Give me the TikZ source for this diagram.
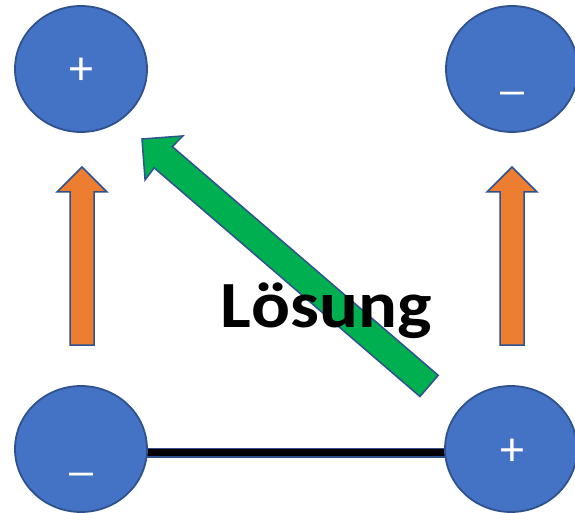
\documentclass[tikz,border=0pt]{standalone}
\usepackage{fontspec}
\setmainfont{Carlito}
\usetikzlibrary{shapes.geometric,backgrounds}
\definecolor{chargefill}{HTML}{4472C4}
\definecolor{edgeblue}{HTML}{2F528F}
\definecolor{arroworange}{HTML}{ED7D31}
\definecolor{arrowgreen}{HTML}{00B050}
\tikzset{
  charge/.style={ellipse, fill=chargefill, draw=edgeblue, line width=1.8pt,
    minimum width=132pt, minimum height=126pt, inner sep=0pt},
  sign/.style={text=white, font=\fontsize{48}{48}\selectfont, inner sep=0pt},
  blockarrow/.style={draw=edgeblue, line width=1.5pt, line join=miter},
  wire/.style={draw=edgeblue, line width=1.5pt, double=black, double distance=7pt}
}
\begin{document}
\begin{tikzpicture}[x=1pt, y=1pt]
  \useasboundingbox (0,0) rectangle (575,512);

  % charges
  \node[charge] (tl) at (81,443) {};
  \node[charge] (tr) at (512,443) {};
  \node[charge] (bl) at (81,63) {};
  \node[charge] (br) at (511,63) {};

  % conductor between the lower charges
  \begin{scope}[on background layer]
    \draw[wire] ([yshift=-3.5pt]bl.center) -- ([yshift=-3.5pt]br.center);
  \end{scope}

  % signs
  \node[sign] (ptl) at (81,441) {+};
  \node[sign] (pbr) at (512,60) {+};
  \node[sign] (mtr) at (512,420) {\_};
  \node[sign] (mbl) at (81,39) {\_};

  % orange upward arrows
  \fill[arroworange, blockarrow] (82,345) -- (107,320) -- (94,320) -- (94,167)
    -- (70,167) -- (70,320) -- (57,320) -- cycle;
  \fill[arroworange, blockarrow] (512,345) -- (537,320) -- (524,320) -- (524,167)
    -- (500,167) -- (500,320) -- (487,320) -- cycle;

  % green diagonal arrow
  \begin{scope}[shift={(142,373)}, rotate=-40.7]
    \fill[arrowgreen, blockarrow] (0,0) -- (29,29) -- (28,14) -- (378.7,14)
      -- (378.7,-14) -- (28,-14) -- (29,-29) -- cycle;
  \end{scope}

  % label
  \node[anchor=base, font=\bfseries\fontsize{66}{66}\selectfont, inner sep=0pt,
    xscale=1.1, transform shape] (label) at (326,185) {Lösung};
\end{tikzpicture}
\end{document}
